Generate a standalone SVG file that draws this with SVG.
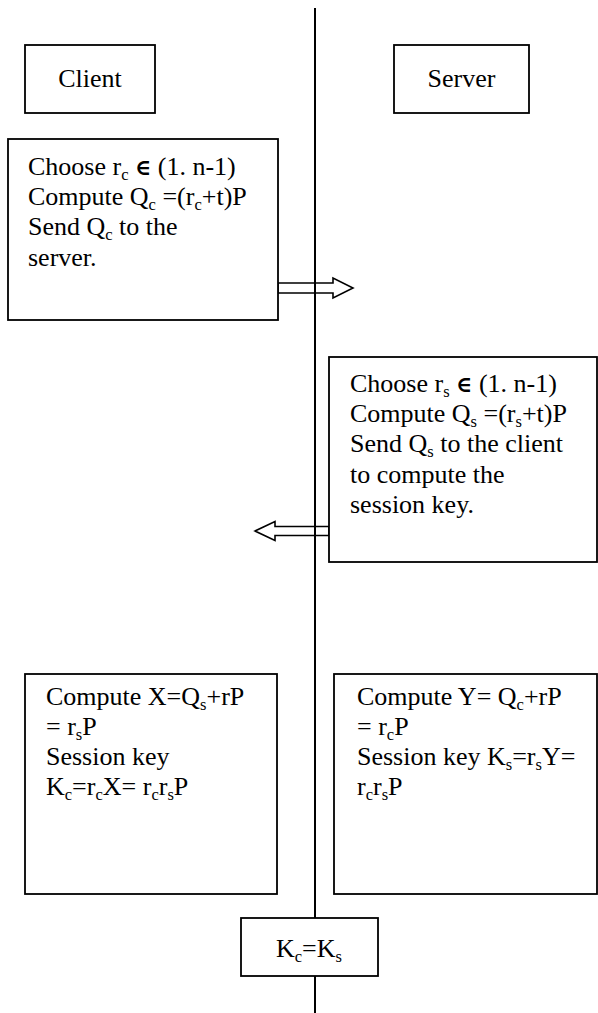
<svg xmlns="http://www.w3.org/2000/svg" width="598" height="1013" viewBox="0 0 598 1013">
<style>
.box{fill:#fff;stroke:#000;stroke-width:1.8}
.arr{fill:#fff;stroke:#000;stroke-width:1.6}
.life{stroke:#000;stroke-width:2;fill:none}
text{font-family:'Liberation Serif','DejaVu Serif',serif;font-size:26px;fill:#000}
.c{text-anchor:middle}
.s{font-size:16.5px}
.e{font-weight:bold;font-size:22px}
</style>
<rect width="598" height="1013" fill="#fff"/>
<g id="connectors">
<polygon class="arr" points="278,283 333,283 333,278 353,288 333,298 333,293 278,293"/>
<polygon class="arr" points="329,526.5 275,526.5 275,521.5 255,531 275,540.5 275,535.5 329,535.5"/>
<line class="life" x1="315" y1="8" x2="315" y2="1013"/>
</g>
<g id="client">
<rect class="box" x="25" y="45" width="130" height="68"/>
<text class="c" x="90" y="87">Client</text>
</g>
<g id="server">
<rect class="box" x="394" y="45" width="135" height="68"/>
<text class="c" x="461.5" y="87">Server</text>
</g>
<g id="client-step1">
<rect class="box" x="8" y="139" width="270" height="181"/>
<text x="28" y="175">Choose r<tspan class="s" dy="5">c</tspan><tspan dy="-5"> </tspan><tspan class="e">∈</tspan> (1. n-1)</text>
<text x="28" y="205">Compute Q<tspan class="s" dy="5">c</tspan><tspan dy="-5"> =(r</tspan><tspan class="s" dy="5">c</tspan><tspan dy="-5">+t)P</tspan></text>
<text x="28" y="235">Send Q<tspan class="s" dy="5">c</tspan><tspan dy="-5"> to the</tspan></text>
<text x="28" y="266">server.</text>
</g>
<g id="server-step1">
<rect class="box" x="329" y="357" width="268" height="205"/>
<text x="350" y="392">Choose r<tspan class="s" dy="5">s</tspan><tspan dy="-5"> </tspan><tspan class="e">∈</tspan> (1. n-1)</text>
<text x="350" y="422">Compute Q<tspan class="s" dy="5">s</tspan><tspan dy="-5"> =(r</tspan><tspan class="s" dy="5">s</tspan><tspan dy="-5">+t)P</tspan></text>
<text x="350" y="452">Send Q<tspan class="s" dy="5">s</tspan><tspan dy="-5"> to the client</tspan></text>
<text x="350" y="483">to compute the</text>
<text x="350" y="513">session key.</text>
</g>
<g id="client-key">
<rect class="box" x="25" y="674" width="252" height="220"/>
<text x="46" y="705">Compute X=Q<tspan class="s" dy="5">s</tspan><tspan dy="-5">+rP</tspan></text>
<text x="46" y="735">= r<tspan class="s" dy="5">s</tspan><tspan dy="-5">P</tspan></text>
<text x="46" y="765">Session key</text>
<text x="46" y="795">K<tspan class="s" dy="5">c</tspan><tspan dy="-5">=r</tspan><tspan class="s" dy="5">c</tspan><tspan dy="-5">X= r</tspan><tspan class="s" dy="5">c</tspan><tspan dy="-5">r</tspan><tspan class="s" dy="5">s</tspan><tspan dy="-5">P</tspan></text>
</g>
<g id="server-key">
<rect class="box" x="334" y="674" width="263" height="220"/>
<text x="357" y="705">Compute Y= Q<tspan class="s" dy="5">c</tspan><tspan dy="-5">+rP</tspan></text>
<text x="357" y="735">= r<tspan class="s" dy="5">c</tspan><tspan dy="-5">P</tspan></text>
<text x="357" y="765">Session key K<tspan class="s" dy="5">s</tspan><tspan dy="-5">=r</tspan><tspan class="s" dy="5">s</tspan><tspan dy="-5">Y=</tspan></text>
<text x="357" y="795">r<tspan class="s" dy="5">c</tspan><tspan dy="-5">r</tspan><tspan class="s" dy="5">s</tspan><tspan dy="-5">P</tspan></text>
</g>
<g id="equal">
<rect class="box" x="241" y="918" width="137" height="58"/>
<text class="c" x="309" y="957">K<tspan class="s" dy="5">c</tspan><tspan dy="-5">=K</tspan><tspan class="s" dy="5">s</tspan></text>
</g>
</svg>
